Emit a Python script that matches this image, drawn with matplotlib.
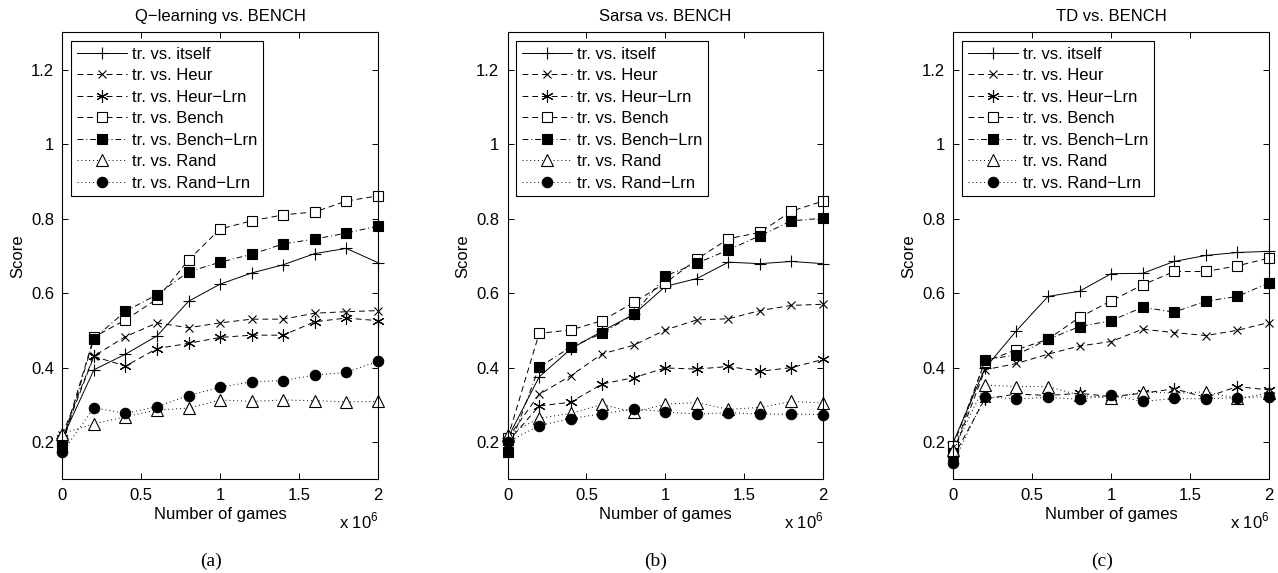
import matplotlib
matplotlib.use("Agg")
import matplotlib.pyplot as plt
from matplotlib.ticker import FixedLocator

plt.rcParams['font.family'] = ['Liberation Sans', 'DejaVu Sans']
plt.rcParams['mathtext.fontset'] = 'custom'
plt.rcParams['mathtext.rm'] = 'Liberation Sans'

games = [0, 0.2, 0.4, 0.6, 0.8, 1.0, 1.2, 1.4, 1.6, 1.8, 2.0]  # x 10^6

series_labels = ["tr. vs. itself", "tr. vs. Heur", "tr. vs. Heur\u2212Lrn", "tr. vs. Bench",
                 "tr. vs. Bench\u2212Lrn", "tr. vs. Rand", "tr. vs. Rand\u2212Lrn"]

titles = ["Q\u2212learning vs. BENCH", "Sarsa vs. BENCH", "TD vs. BENCH"]
panel_tags = ["(a)", "(b)", "(c)"]

# Q-learning
q_itself    = [0.21, 0.394, 0.436, 0.485, 0.578, 0.624, 0.654, 0.676, 0.706, 0.720, 0.682]
q_heur      = [0.22, 0.431, 0.483, 0.520, 0.507, 0.520, 0.530, 0.530, 0.546, 0.550, 0.553]
q_heurlrn   = [0.21, 0.430, 0.404, 0.451, 0.465, 0.481, 0.487, 0.487, 0.523, 0.533, 0.526]
q_bench     = [0.20, 0.482, 0.528, 0.584, 0.689, 0.772, 0.794, 0.810, 0.818, 0.847, 0.861]
q_benchlrn  = [0.19, 0.478, 0.551, 0.596, 0.657, 0.683, 0.704, 0.732, 0.745, 0.761, 0.780]
q_rand      = [0.223, 0.249, 0.268, 0.286, 0.291, 0.313, 0.309, 0.313, 0.311, 0.308, 0.309]
q_randlrn   = [0.173, 0.292, 0.277, 0.295, 0.325, 0.347, 0.362, 0.365, 0.380, 0.387, 0.417]

# Sarsa
s_itself    = [0.21, 0.375, 0.450, 0.498, 0.543, 0.618, 0.639, 0.683, 0.679, 0.685, 0.679]
s_heur      = [0.21, 0.328, 0.378, 0.437, 0.460, 0.501, 0.528, 0.531, 0.553, 0.567, 0.570]
s_heurlrn   = [0.20, 0.297, 0.307, 0.356, 0.373, 0.399, 0.396, 0.403, 0.390, 0.400, 0.422]
s_bench     = [0.21, 0.492, 0.501, 0.526, 0.575, 0.627, 0.691, 0.746, 0.763, 0.820, 0.847]
s_benchlrn  = [0.173, 0.401, 0.455, 0.492, 0.543, 0.646, 0.680, 0.716, 0.754, 0.794, 0.801]
s_rand      = [0.22, 0.264, 0.277, 0.301, 0.280, 0.302, 0.306, 0.288, 0.293, 0.309, 0.305]
s_randlrn   = [0.20, 0.244, 0.263, 0.276, 0.289, 0.281, 0.275, 0.279, 0.275, 0.275, 0.274]

# TD
t_itself    = [0.20, 0.398, 0.499, 0.591, 0.605, 0.652, 0.653, 0.685, 0.701, 0.709, 0.712]
t_heur      = [0.17, 0.394, 0.411, 0.436, 0.458, 0.470, 0.503, 0.494, 0.486, 0.500, 0.521]
t_heurlrn   = [0.16, 0.316, 0.329, 0.325, 0.331, 0.322, 0.331, 0.343, 0.320, 0.349, 0.340]
t_bench     = [0.19, 0.416, 0.448, 0.476, 0.535, 0.579, 0.622, 0.658, 0.658, 0.673, 0.694]
t_benchlrn  = [0.17, 0.421, 0.434, 0.476, 0.510, 0.526, 0.562, 0.549, 0.578, 0.591, 0.627]
t_rand      = [0.18, 0.353, 0.349, 0.349, 0.326, 0.317, 0.335, 0.331, 0.335, 0.317, 0.331]
t_randlrn   = [0.145, 0.322, 0.316, 0.320, 0.315, 0.326, 0.309, 0.317, 0.316, 0.319, 0.322]

panels = [
    [q_itself, q_heur, q_heurlrn, q_bench, q_benchlrn, q_rand, q_randlrn],
    [s_itself, s_heur, s_heurlrn, s_bench, s_benchlrn, s_rand, s_randlrn],
    [t_itself, t_heur, t_heurlrn, t_bench, t_benchlrn, t_rand, t_randlrn],
]

asterisk = (6, 2, 0)
styles = [
    dict(linestyle='-', marker='+', markersize=9, mfc='none'),
    dict(linestyle=(0, (6, 4)), marker='x', markersize=6, mfc='none'),
    dict(linestyle=(0, (6, 4)), marker=asterisk, markersize=9, mfc='none'),
    dict(linestyle=(0, (6, 4)), marker='s', markersize=6.5, mfc='white'),
    dict(linestyle=(0, (6, 3, 1, 3)), marker='s', markersize=6.5, mfc='black'),
    dict(linestyle=(0, (1, 3)), marker='^', markersize=8, mfc='white'),
    dict(linestyle=(0, (1, 3)), marker='o', markersize=7.5, mfc='black'),
]

FS = 12

fig = plt.figure(figsize=(12.78, 5.73), dpi=100)
lefts = [0.0488, 0.3972, 0.7460]
width = 0.2468
bottom = 0.1635
height = 0.780

for i in range(3):
    ax = fig.add_axes([lefts[i], bottom, width, height])
    for j, ys in enumerate(panels[i]):
        st = styles[j]
        ax.plot(games, ys, color='black', linewidth=0.7, linestyle=st['linestyle'],
                marker=st['marker'], markersize=st['markersize'],
                markerfacecolor=st['mfc'], markeredgecolor='black',
                markeredgewidth=0.8, label=series_labels[j], clip_on=False)
    ax.set_xlim(0, 2)
    ax.set_ylim(0.1, 1.3)
    ax.xaxis.set_major_locator(FixedLocator([0, 0.5, 1, 1.5, 2]))
    ax.yaxis.set_major_locator(FixedLocator([0.2, 0.4, 0.6, 0.8, 1.0, 1.2]))
    ax.set_xticklabels(['0', '0.5', '1', '1.5', '2'])
    ax.set_yticklabels(['0.2', '0.4', '0.6', '0.8', '1', '1.2'])
    ax.tick_params(direction='in', top=True, right=True, length=4, width=0.7,
                   labelsize=FS, pad=6)
    for sp in ax.spines.values():
        sp.set_linewidth(0.8)
    ax.set_title(titles[i], fontsize=FS, pad=8)
    ax.set_xlabel("Number of games", fontsize=FS, labelpad=3)
    ax.set_ylabel("Score", fontsize=FS, labelpad=4)
    leg = ax.legend(loc='upper left', fontsize=FS, handlelength=3.0,
                    borderaxespad=0.5, fancybox=False, framealpha=1,
                    edgecolor='black', labelspacing=0.39, handletextpad=0.3,
                    borderpad=0.35)
    leg.get_frame().set_linewidth(0.8)
    ax.text(0.94, -0.109, r'x 10$^{6}$', transform=ax.transAxes, fontsize=FS,
            ha='center', va='baseline')
    fig.text(lefts[i] + width * 0.47, 0.0197, panel_tags[i], ha='center', va='center',
             fontsize=14, family=['Liberation Serif', 'DejaVu Serif'])

fig.savefig("out.png", dpi=100)
